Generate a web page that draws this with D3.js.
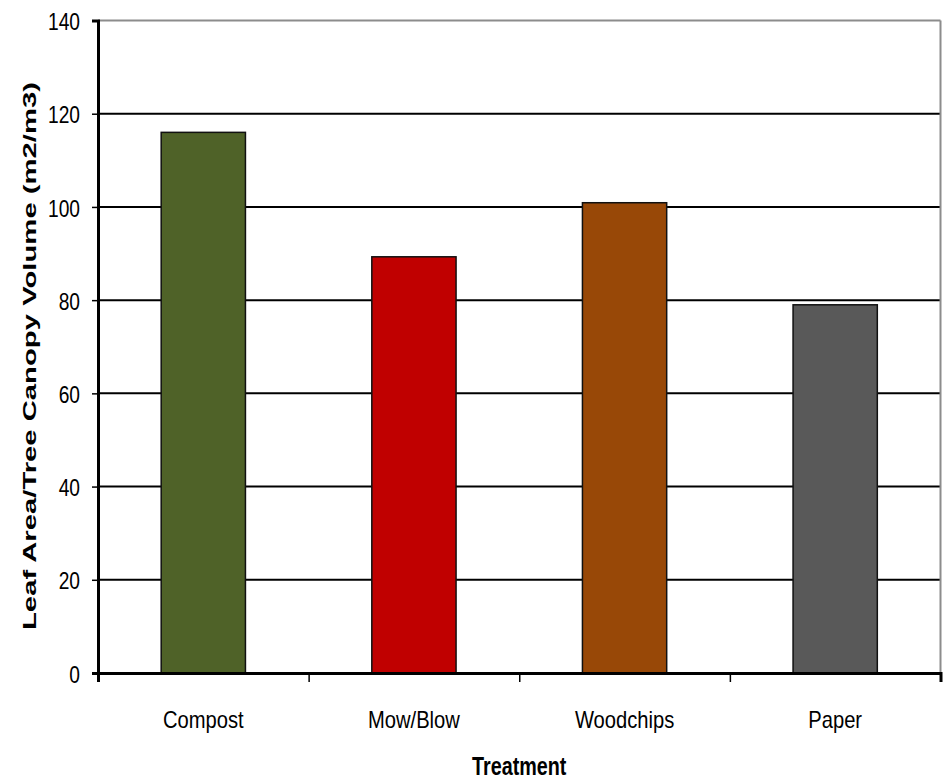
<!DOCTYPE html>
<html>
<head>
<meta charset="utf-8">
<script src="https://cdn.jsdelivr.net/npm/d3@7"></script>
<style>
  html, body { margin: 0; padding: 0; background: #fff; }
  svg { display: block; }
</style>
</head>
<body>
<svg id="chart" width="946" height="783"></svg>
<script>
const categories = ["Compost", "Mow/Blow", "Woodchips", "Paper"];
const values = [116, 89.3, 100.9, 79];
const barColors = ["#4F6228", "#C00000", "#984807", "#595959"];
const yTicks = [0, 20, 40, 60, 80, 100, 120, 140];
const yTitle = "Leaf Area/Tree Canopy Volume (m2/m3)";
const xTitle = "Treatment";

const svg = d3.select("#chart");
const m = { left: 98, top: 20.5, right: 940.5, bottom: 673 };

const x = d3.scaleBand().domain(categories).range([m.left, m.right]).paddingInner(0.6).paddingOuter(0.3);
const xEdge = d3.scaleLinear().domain([0, categories.length]).range([m.left, m.right]);
const y = d3.scaleLinear().domain([0, 140]).range([m.bottom, m.top]);

const font = "'Liberation Sans', Arial, sans-serif";

// condense text horizontally to mimic a narrow face
function condense(sel, factor) {
  sel.each(function () {
    const w = this.getComputedTextLength();
    d3.select(this).attr("textLength", w * factor).attr("lengthAdjust", "spacingAndGlyphs");
  });
}

// gridlines
svg.append("g").selectAll("line").data(yTicks.filter(t => t > 0 && t < 140)).join("line")
  .attr("x1", m.left).attr("x2", m.right)
  .attr("y1", d => y(d)).attr("y2", d => y(d))
  .attr("stroke", "#000").attr("stroke-width", 2);

// top and right border (gray)
svg.append("line").attr("x1", m.left).attr("x2", m.right).attr("y1", y(140)).attr("y2", y(140))
  .attr("stroke", "#8c8c8c").attr("stroke-width", 2);
svg.append("line").attr("x1", m.right).attr("x2", m.right).attr("y1", y(140)).attr("y2", m.bottom)
  .attr("stroke", "#8c8c8c").attr("stroke-width", 2);

// bars
svg.append("g").selectAll("rect").data(categories).join("rect")
  .attr("x", d => x(d))
  .attr("width", x.bandwidth())
  .attr("y", (d, i) => y(values[i]))
  .attr("height", (d, i) => y(0) - y(values[i]))
  .attr("fill", (d, i) => barColors[i])
  .attr("stroke", "#111").attr("stroke-width", 1.5);

// y axis
const yAxis = d3.axisLeft(y).tickValues(yTicks).tickSize(6).tickPadding(12);
const gy = svg.append("g").attr("transform", `translate(${m.left},0)`).call(yAxis);
gy.select(".domain").attr("stroke", "#000").attr("stroke-width", 3);
gy.selectAll(".tick line").attr("stroke", "#000").attr("stroke-width", 1.5);
gy.selectAll(".tick text").attr("font-family", font).attr("font-size", 24).attr("fill", "#000").attr("dy", "0.38em")
  .call(condense, 0.8);

// x axis ticks at category edges
const gx = svg.append("g").attr("transform", `translate(0,${m.bottom})`)
  .call(d3.axisBottom(xEdge).tickValues(d3.range(categories.length + 1)).tickSize(9).tickFormat(""));
gx.select(".domain").attr("stroke", "#000").attr("stroke-width", 3);
gx.selectAll(".tick line").attr("stroke", "#000").attr("stroke-width", 1.5);

// category labels
svg.append("g").selectAll("text").data(categories).join("text")
  .attr("x", d => x(d) + x.bandwidth() / 2)
  .attr("y", 728)
  .attr("text-anchor", "middle")
  .attr("font-family", font).attr("font-size", 24).attr("fill", "#000")
  .text(d => d)
  .call(condense, 0.84);

// x title
svg.append("text")
  .attr("x", (m.left + m.right) / 2).attr("y", 775)
  .attr("text-anchor", "middle")
  .attr("font-family", font).attr("font-size", 25).attr("font-weight", "bold").attr("fill", "#000")
  .text(xTitle)
  .call(condense, 0.79);

// y title
svg.append("text")
  .attr("transform", `translate(36,356) rotate(-90)`)
  .attr("text-anchor", "middle")
  .attr("font-family", font).attr("font-size", 19).attr("font-weight", "bold").attr("fill", "#000")
  .attr("textLength", 548).attr("lengthAdjust", "spacingAndGlyphs")
  .text(yTitle);
</script>
</body>
</html>
